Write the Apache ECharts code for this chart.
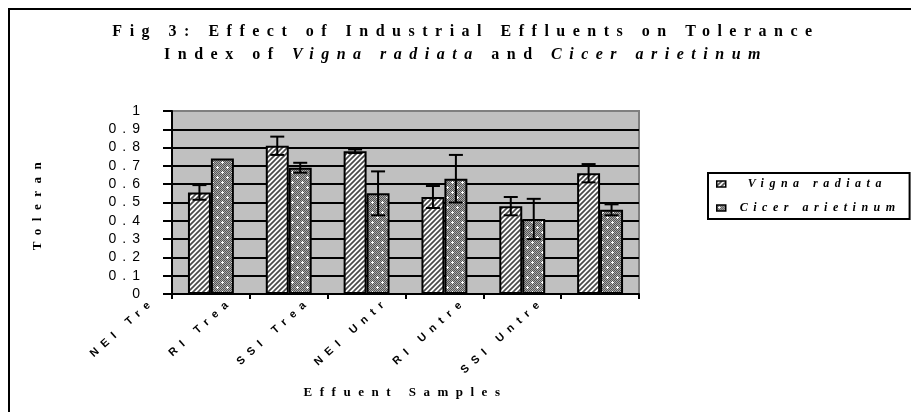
<!DOCTYPE html>
<html>
<head>
<meta charset="utf-8">
<script src="https://cdn.jsdelivr.net/npm/echarts@6/dist/echarts.min.js"></script>
<style>html,body{margin:0;padding:0;background:#fff}#c{width:911px;height:412px}</style>
</head>
<body>
<div id="c"></div>
<script>
// ---- data ----
const categories = ['NEI Tre', 'RI Trea', 'SSI Trea', 'NEI Untr', 'RI Untre', 'SSI Untre'];
const seriesNames = ['Vigna radiata', 'Cicer arietinum'];
const vignaValues = [0.555, 0.81, 0.78, 0.53, 0.48, 0.66];
const vignaErrors = [0.04, 0.05, 0.01, 0.06, 0.05, 0.05];
const cicerValues = [0.74, 0.69, 0.55, 0.63, 0.41, 0.46];
const cicerErrors = [0, 0.027, 0.12, 0.13, 0.11, 0.03];
const yMin = 0, yMax = 1, yStep = 0.1;

// ---- letter spacing (style) keyed by font size ----
const SPACING = {16: 7.5, 13: 7.5, 12: 5.5, 11: 6.5, 14: 6};
(function () {
  const P = CanvasRenderingContext2D.prototype;
  function sp(font, text) {
    if (text === '国') return 0;
    const m = /(\d+(?:\.\d+)?)px/.exec(font || '');
    return m ? (SPACING[+m[1]] || 0) : 0;
  }
  ['fillText', 'strokeText', 'measureText'].forEach(function (fn) {
    const o = P[fn];
    P[fn] = function () {
      try { this.letterSpacing = sp(this.font, arguments[0]) + 'px'; } catch (e) {}
      return o.apply(this, arguments);
    };
  });
})();

// ---- patterns ----
function hatchPattern() {
  const c = document.createElement('canvas'); c.width = 5; c.height = 5;
  const g = c.getContext('2d');
  g.fillStyle = '#ffffff'; g.fillRect(0, 0, 5, 5);
  g.strokeStyle = '#4a4a4a'; g.lineWidth = 1.7;
  g.beginPath();
  g.moveTo(-1, 6); g.lineTo(6, -1);
  g.moveTo(-1, 1); g.lineTo(1, -1);
  g.moveTo(4, 6); g.lineTo(6, 4);
  g.stroke();
  return c;
}
function dotPattern() {
  const n = 10;
  const c = document.createElement('canvas'); c.width = n; c.height = n;
  const g = c.getContext('2d');
  for (let x = 0; x < n; x++) for (let y = 0; y < n; y++) {
    g.fillStyle = ((x + y) % 2) ? '#a8a8a8' : '#555555';
    g.fillRect(x, y, 1, 1);
  }
  g.fillStyle = '#ffffff';
  [[2, 2], [7, 7]].forEach(function (p) {
    g.fillRect(p[0], p[1] - 1, 1, 3);
    g.fillRect(p[0] - 1, p[1], 3, 1);
  });
  return c;
}

const BAR_FRAC = 0.295;
function errRender(sign) {
  return function (params, api) {
    const i = api.value(0), v = api.value(1), e = api.value(2);
    if (!e) return;
    const band = api.size([1, 0])[0];
    const x = api.coord([i, v])[0] + sign * band * BAR_FRAC / 2;
    const yt = api.coord([i, v + e])[1];
    const yb = api.coord([i, v - e])[1];
    const cap = 7;
    const st = {stroke: '#000', lineWidth: 2};
    return {type: 'group', children: [
      {type: 'line', shape: {x1: x, y1: yt, x2: x, y2: yb}, style: st},
      {type: 'line', shape: {x1: x - cap, y1: yt, x2: x + cap, y2: yt}, style: st},
      {type: 'line', shape: {x1: x - cap, y1: yb, x2: x + cap, y2: yb}, style: st}
    ]};
  };
}

const chart = echarts.init(document.getElementById('c'), null, {renderer: 'canvas'});
const serif = 'Times New Roman';
const sans = 'Arial';
chart.setOption({
  animation: false,
  backgroundColor: '#ffffff',
  graphic: [{
    type: 'rect', silent: true, z: 0,
    shape: {x: 9, y: 9, width: 1000, height: 1000},
    style: {fill: 'none', stroke: '#000', lineWidth: 2}
  }],
  title: {
    left: 466, top: 20, padding: 0, textAlign: 'center',
    text: 'Fig 3: Effect of Industrial Effluents on Tolerance\n{n|Index of }{i|Vigna radiata}{n| and }{i|Cicer arietinum}',
    textStyle: {
      fontFamily: serif, fontWeight: 'bold', fontSize: 16, color: '#000', lineHeight: 23,
      rich: {
        n: {fontFamily: serif, fontWeight: 'bold', fontSize: 16, color: '#000', lineHeight: 23},
        i: {fontFamily: serif, fontWeight: 'bold', fontStyle: 'italic', fontSize: 16, color: '#000', lineHeight: 23}
      }
    }
  },
  legend: {
    orient: 'vertical', left: 708, top: 173,
    padding: [5, 9, 5, 8], itemGap: 12,
    itemWidth: 9, itemHeight: 6, icon: 'rect',
    backgroundColor: '#fff', borderColor: '#000', borderWidth: 2, borderRadius: 0,
    itemStyle: {borderColor: '#000', borderWidth: 1.5},
    textStyle: {fontFamily: serif, fontWeight: 'bold', fontStyle: 'italic', fontSize: 12, color: '#000'},
    data: [
      {name: seriesNames[0], textStyle: {padding: [0, 0, 0, 17]}},
      {name: seriesNames[1], textStyle: {padding: [0, 0, 0, 9]}}
    ]
  },
  grid: {
    left: 172, top: 111, right: 272, bottom: 118,
    outerBoundsMode: 'none', containLabel: false,
    show: true, backgroundColor: '#c0c0c0', borderColor: '#7f7f7f', borderWidth: 2
  },
  xAxis: {
    type: 'category', data: categories,
    name: 'Effuent Samples', nameLocation: 'middle', nameGap: 92, nameMoveOverlap: false,
    nameTextStyle: {fontFamily: serif, fontWeight: 'bold', fontSize: 13, color: '#000'},
    axisLine: {lineStyle: {color: '#000', width: 2}},
    axisTick: {show: true, length: 5, lineStyle: {color: '#000', width: 2}},
    axisLabel: {
      interval: 0, rotate: 42, margin: -46, padding: [0, 77, 0, 0],
      fontFamily: sans, fontWeight: 'bold', fontSize: 11, color: '#000'
    },
    splitLine: {show: false}
  },
  yAxis: {
    type: 'value', min: yMin, max: yMax, interval: yStep,
    name: 'Toleran', nameLocation: 'middle', nameGap: 128, nameMoveOverlap: false,
    nameTextStyle: {fontFamily: serif, fontWeight: 'bold', fontSize: 13, color: '#000'},
    axisLine: {show: true, lineStyle: {color: '#000', width: 2}},
    axisTick: {show: true, length: 9, lineStyle: {color: '#000', width: 2}},
    axisLabel: {margin: 26, fontFamily: sans, fontSize: 14, color: '#000'},
    splitLine: {show: true, showMinLine: false, showMaxLine: false, lineStyle: {color: '#000', width: 2}}
  },
  series: [
    {
      name: seriesNames[0], type: 'bar', data: vignaValues,
      barWidth: (BAR_FRAC * 100) + '%', barGap: '0%',
      itemStyle: {color: {image: hatchPattern(), repeat: 'repeat'}, borderColor: '#000', borderWidth: 2}
    },
    {
      name: seriesNames[1], type: 'bar', data: cicerValues,
      barWidth: (BAR_FRAC * 100) + '%', barGap: '0%',
      itemStyle: {color: {image: dotPattern(), repeat: 'repeat'}, borderColor: '#000', borderWidth: 2}
    },
    {
      type: 'custom', name: 'err1', z: 5, renderItem: errRender(-1),
      encode: {x: 0, y: 1},
      data: vignaValues.map(function (v, i) { return [i, v, vignaErrors[i]]; })
    },
    {
      type: 'custom', name: 'err2', z: 5, renderItem: errRender(1),
      encode: {x: 0, y: 1},
      data: cicerValues.map(function (v, i) { return [i, v, cicerErrors[i]]; })
    }
  ]
});
</script>
</body>
</html>
